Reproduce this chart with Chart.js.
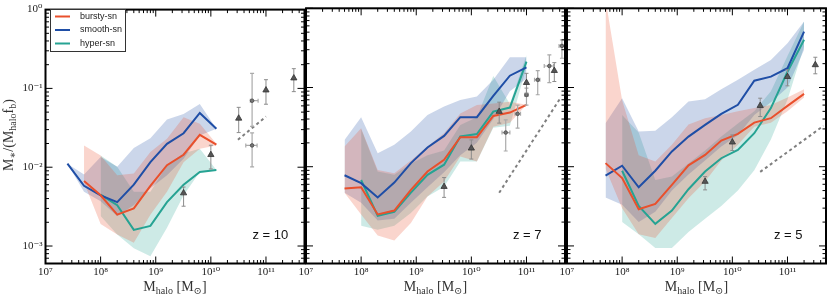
<!DOCTYPE html>
<html>
<head>
<meta charset="utf-8">
<script src="https://cdn.jsdelivr.net/npm/chart.js@4.4.1/dist/chart.umd.min.js"></script>
<style>
  body { margin: 0; background: #fff; }
  #wrap { position: relative; width: 830px; height: 299px; }
  #wrap canvas { position: absolute; left: 0; top: 0; }
</style>
</head>
<body>
<div id="wrap">
  <canvas id="panelZ10" width="830" height="299"></canvas>
  <canvas id="panelZ7" width="830" height="299"></canvas>
  <canvas id="panelZ5" width="830" height="299"></canvas>
</div>
<script>
// halo mass bins (M_sun), shared by all panels
const haloMass = [2.5e7, 5e7, 1e8, 2e8, 4e8, 8e8, 1.6e9, 3.2e9, 6.3e9, 1.26e10, 2.5e10, 5e10, 1e11, 2e11];
const xTicks = [1e7, 1e8, 1e9, 1e10, 1e11];
const yTicks = [1e-3, 1e-2, 1e-1, 1];
const seriesNames = ['bursty-sn', 'smooth-sn', 'hyper-sn'];

// z = 10
const z10Bursty   = [null, 0.0067, 0.0044, 0.0025, 0.0030, 0.0058, 0.0106, 0.0144, 0.0258, 0.0193, null, null, null, null];
const z10BurstyLo = [null, 0.0064, 0.0019, 0.0014, 0.0011, 0.0025, 0.0049, 0.0116, 0.0172, 0.0189, null, null, null, null];
const z10BurstyHi = [null, 0.0189, 0.0141, 0.0079, 0.0083, 0.0156, 0.0230, 0.0430, 0.0355, 0.0199, null, null, null, null];
const z10Smooth   = [0.0111, 0.0058, 0.0044, 0.0036, 0.0060, 0.0116, 0.0198, 0.0270, 0.0488, 0.0307, null, null, null, null];
const z10SmoothLo = [0.0111, 0.0049, 0.0037, 0.0024, 0.0033, 0.0054, 0.0079, 0.0128, 0.0252, 0.0307, null, null, null, null];
const z10SmoothHi = [0.0111, 0.0081, 0.0135, 0.0101, 0.0175, 0.0233, 0.0402, 0.0474, 0.0634, 0.0307, null, null, null, null];
const z10Hyper    = [null, null, 0.0045, 0.0033, 0.0016, 0.0018, 0.0036, 0.0060, 0.0087, 0.0092, null, null, null, null];
const z10HyperLo  = [null, null, 0.0024, 0.0014, 0.00094, 0.00074, 0.0017, 0.0044, 0.0087, 0.0092, null, null, null, null];
const z10HyperHi  = [null, null, 0.0141, 0.0101, 0.0049, 0.0049, 0.0106, 0.0150, 0.0172, 0.0092, null, null, null, null];

// z = 7
const z7Bursty   = [null, 0.0053, 0.0055, 0.0025, 0.0028, 0.0051, 0.0087, 0.0122, 0.0236, 0.0236, 0.0438, 0.0483, 0.0604, null];
const z7BurstyLo = [null, 0.0047, 0.0025, 0.00135, 0.00117, 0.00195, 0.0042, 0.0065, 0.0135, 0.0116, 0.032, 0.036, 0.0604, null];
const z7BurstyHi = [null, 0.018, 0.0307, 0.0091, 0.0083, 0.012, 0.018, 0.0265, 0.047, 0.060, 0.063, 0.066, 0.0604, null];
const z7Smooth   = [null, 0.0078, 0.0062, 0.0041, 0.0063, 0.0111, 0.0175, 0.0245, 0.0422, 0.0422, 0.0783, 0.141, 0.180, null];
const z7SmoothLo = [null, 0.0047, 0.0035, 0.0021, 0.0022, 0.0035, 0.0055, 0.0085, 0.014, 0.020, 0.040, 0.090, 0.130, null];
const z7SmoothHi = [null, 0.0218, 0.0422, 0.0148, 0.0189, 0.0278, 0.0451, 0.0574, 0.0698, 0.0768, 0.125, 0.241, 0.241, null];
const z7Hyper    = [null, null, 0.0068, 0.0024, 0.0027, 0.0047, 0.0079, 0.0106, 0.0241, 0.0258, 0.0497, 0.0558, 0.212, null];
const z7HyperLo  = [null, null, 0.0018, 0.0016, 0.0018, 0.0026, 0.0042, 0.0056, 0.0116, 0.0116, 0.031, 0.0328, 0.180, null];
const z7HyperHi  = [null, null, 0.030, 0.0087, 0.0079, 0.011, 0.014, 0.016, 0.0337, 0.042, 0.140, 0.062, 0.258, null];

// z = 5
const z5Bursty   = [null, 0.0111, 0.0072, 0.0029, 0.0034, 0.0059, 0.0104, 0.0141, 0.0214, 0.026, 0.036, 0.041, 0.0586, 0.083];
const z5BurstyLo = [null, 0.0095, 0.0030, 0.0014, 0.00126, 0.00225, 0.0040, 0.0065, 0.012, 0.019, 0.032, 0.036, 0.050, 0.075];
const z5BurstyHi = [null, 1.3, 0.069, 0.014, 0.0116, 0.019, 0.034, 0.041, 0.045, 0.050, 0.055, 0.060, 0.075, 0.095];
const z5Smooth   = [null, 0.0077, 0.0103, 0.0055, 0.0089, 0.0156, 0.024, 0.0337, 0.0465, 0.0604, 0.122, 0.137, 0.175, 0.507];
const z5SmoothLo = [null, 0.0041, 0.0033, 0.0020, 0.0027, 0.0050, 0.0080, 0.012, 0.018, 0.025, 0.045, 0.065, 0.100, 0.300];
const z5SmoothHi = [null, 0.0355, 0.073, 0.0278, 0.0284, 0.042, 0.0664, 0.071, 0.095, 0.125, 0.167, 0.223, 0.362, 0.68];
const z5Hyper    = [null, null, 0.0089, 0.0032, 0.0019, 0.0028, 0.0052, 0.0087, 0.0128, 0.0163, 0.0265, 0.055, 0.158, 0.40];
const z5HyperLo  = [null, null, 0.0020, 0.0014, 0.00094, 0.00094, 0.0015, 0.0022, 0.0032, 0.0050, 0.0090, 0.022, 0.070, 0.33];
const z5HyperHi  = [null, null, 0.045, 0.027, 0.0068, 0.0075, 0.011, 0.016, 0.024, 0.035, 0.050, 0.090, 0.250, 0.68];

// observations (triangles, circles) and dashed relation
const triMass = [3.2e9, 1e10, 3.2e10, 1e11, 3.2e11];
const z10TriVal = [0.0047, 0.0144, 0.0417, 0.095, 0.135];
const z10TriLo  = [0.0032, 0.0095, 0.0275, 0.063, 0.091];
const z10TriHi  = [0.0056, 0.019, 0.0575, 0.129, 0.178];
const z7TriVal  = [0.0056, 0.0171, 0.0497, 0.115, 0.163];
const z7TriLo   = [0.0041, 0.0125, 0.0355, 0.085, 0.119];
const z7TriHi   = [0.0073, 0.0218, 0.0653, 0.151, 0.206];
const z5TriVal  = [0.0065, 0.0204, 0.059, 0.137, 0.193];
const z5TriLo   = [0.0051, 0.016, 0.043, 0.105, 0.149];
const z5TriHi   = [0.0075, 0.0252, 0.0733, 0.167, 0.241];

const z10CircMass   = [5.6e10, 5.6e10];
const z10CircMassLo = [5.2e10, 4.3e10];
const z10CircMassHi = [7.2e10, 6.9e10];
const z10CircVal    = [0.0698, 0.0189];
const z10CircLo     = [0.033, 0.0101];
const z10CircHi     = [0.155, 0.0273];
const z7CircMass    = [4.2e10, 6.9e10, 1e11, 1.6e11, 2.6e11, 4.4e11];
const z7CircMassLo  = [3.6e10, 6.2e10, 9.3e10, 1.4e11, 2.1e11, 3.9e11];
const z7CircMassHi  = [5.0e10, 7.8e10, 1.07e11, 1.75e11, 3.1e11, 5.0e11];
const z7CircVal     = [0.027, 0.0465, 0.0807, 0.125, 0.187, 0.335];
const z7CircLo      = [0.0158, 0.0307, 0.060, 0.081, 0.115, 0.234];
const z7CircHi      = [0.039, 0.060, 0.098, 0.163, 0.258, 0.40];

const z10DashMass = [3.1e10, 1e11];
const z10DashVal  = [0.0223, 0.0439];
const z7DashMass  = [3.2e10, 4.1e11];
const z7DashVal   = [0.0047, 0.073];
const z5DashMass  = [3.2e10, 4.5e11];
const z5DashVal   = [0.0086, 0.0328];

const lineColors = ['#e9502c', '#1f4ea6', '#26a393'];
const bandColors = ['rgba(233,80,44,0.24)', 'rgba(31,78,166,0.23)', 'rgba(38,163,147,0.23)'];

const supDigits = { '-': '\u207b', '0': '\u2070', '1': '\u00b9', '2': '\u00b2', '3': '\u00b3', '4': '\u2074',
  '5': '\u2075', '6': '\u2076', '7': '\u2077', '8': '\u2078', '9': '\u2079' };
function powLabel(v) {
  const e = String(Math.round(Math.log10(v)));
  return '10' + e.split('').map(c => supDigits[c]).join('');
}

function toPoints(xs, ys) {
  return xs.map((x, i) => ({ x: x, y: ys[i] })).filter(p => p.y != null);
}

function seriesSets(k, vals, lo, hi) {
  return [
    { label: seriesNames[k], inLegend: true, data: toPoints(haloMass, vals), borderColor: lineColors[k],
      borderWidth: 2, pointRadius: 0, fill: false, order: 2 },
    { data: toPoints(haloMass, hi), borderColor: 'transparent', borderWidth: 0, pointRadius: 0,
      backgroundColor: bandColors[k], fill: '+1', order: 3 },
    { data: toPoints(haloMass, lo), borderColor: 'transparent', borderWidth: 0, pointRadius: 0, fill: false, order: 3 }
  ];
}

function obsSets(triVal, triLo, triHi, cMass, cMassLo, cMassHi, cVal, cLo, cHi, dMass, dVal) {
  const sets = [
    { data: toPoints(triMass, triVal), showLine: false, pointStyle: 'triangle', pointRadius: 3.6,
      pointBackgroundColor: '#555', pointBorderColor: '#333', pointBorderWidth: 0.8, order: 0,
      errY: triLo.map((l, i) => [l, triHi[i]]), errColor: '#8c8c8c', errWidth: 1 },
    { data: toPoints(dMass, dVal), borderColor: '#7f7f7f', borderWidth: 2, borderDash: [3, 3],
      pointRadius: 0, fill: false, order: 1 }
  ];
  if (cMass) {
    sets.push({ data: toPoints(cMass, cVal), showLine: false, pointStyle: 'circle', pointRadius: 1.8,
      pointBackgroundColor: '#777', pointBorderColor: '#444', pointBorderWidth: 0.8, order: 0,
      errY: cLo.map((l, i) => [l, cHi[i]]), errX: cMassLo.map((l, i) => [l, cMassHi[i]]),
      errColor: '#aaa', errWidth: 1.2 });
  }
  return sets;
}

function drawMixed(ctx, parts, x, y) {
  let w = 0;
  parts.forEach(p => { ctx.font = p.size + 'px "Liberation Serif", "DejaVu Serif", serif'; w += ctx.measureText(p.t).width; });
  let cx = x - w / 2;
  parts.forEach(p => {
    ctx.font = p.size + 'px "Liberation Serif", "DejaVu Serif", serif';
    ctx.fillText(p.t, cx, y + (p.dy || 0));
    cx += ctx.measureText(p.t).width;
  });
}

function drawLogTicks(ctx, scale, area, horizontal) {
  const lo = Math.floor(Math.log10(scale.min)), hi = Math.ceil(Math.log10(scale.max));
  for (let d = lo; d <= hi; d++) {
    for (let m = 1; m < 10; m++) {
      const v = m * Math.pow(10, d);
      if (v < scale.min * 0.999 || v > scale.max * 1.001) continue;
      const p = scale.getPixelForValue(v);
      const len = m === 1 ? 7 : 3.5;
      if (horizontal) {
        ctx.moveTo(p, area.bottom); ctx.lineTo(p, area.bottom - len);
        ctx.moveTo(p, area.top); ctx.lineTo(p, area.top + len);
      } else {
        ctx.moveTo(area.left, p); ctx.lineTo(area.left + len, p);
        ctx.moveTo(area.right, p); ctx.lineTo(area.right - len, p);
      }
    }
  }
}

const decoPlugin = {
  id: 'deco',
  beforeDatasetDraw(chart, args) {
    const ds = chart.data.datasets[args.index];
    if (!ds.errY) return;
    const xs = chart.scales.x, ys = chart.scales.y, a = chart.chartArea, ctx = chart.ctx;
    ctx.save();
    ctx.beginPath(); ctx.rect(a.left, a.top, a.right - a.left, a.bottom - a.top); ctx.clip();
    ctx.strokeStyle = ds.errColor; ctx.lineWidth = ds.errWidth;
    ctx.beginPath();
    ds.data.forEach((p, i) => {
      const px = xs.getPixelForValue(p.x), py = ys.getPixelForValue(p.y);
      const y1 = ys.getPixelForValue(ds.errY[i][0]), y2 = ys.getPixelForValue(ds.errY[i][1]);
      ctx.moveTo(px, y1); ctx.lineTo(px, y2);
      ctx.moveTo(px - 2, y1); ctx.lineTo(px + 2, y1);
      ctx.moveTo(px - 2, y2); ctx.lineTo(px + 2, y2);
      if (ds.errX) {
        const x1 = xs.getPixelForValue(ds.errX[i][0]), x2 = xs.getPixelForValue(ds.errX[i][1]);
        ctx.moveTo(x1, py); ctx.lineTo(x2, py);
        ctx.moveTo(x1, py - 2); ctx.lineTo(x1, py + 2);
        ctx.moveTo(x2, py - 2); ctx.lineTo(x2, py + 2);
      }
    });
    ctx.stroke();
    ctx.restore();
  },
  afterDraw(chart, args, opts) {
    const ctx = chart.ctx, a = chart.chartArea;
    ctx.save();
    // inward ticks on all four sides, then the frame
    ctx.strokeStyle = '#000'; ctx.lineWidth = 1;
    ctx.beginPath();
    drawLogTicks(ctx, chart.scales.x, a, true);
    drawLogTicks(ctx, chart.scales.y, a, false);
    ctx.stroke();
    ctx.lineWidth = 2;
    ctx.strokeRect(a.left, a.top, a.right - a.left, a.bottom - a.top);

    // redshift label
    ctx.fillStyle = '#111';
    ctx.font = '13px "Liberation Sans", Arial, sans-serif';
    ctx.textAlign = 'left'; ctx.textBaseline = 'alphabetic';
    ctx.fillText(opts.zLabel, a.right - 52, 239);

    // x axis title
    ctx.fillStyle = '#333';
    drawMixed(ctx, [{ t: 'M', size: 14 }, { t: 'halo', size: 10, dy: 3 }, { t: ' [M', size: 14 },
      { t: '\u2299', size: 10, dy: 3 }, { t: ']', size: 14 }], (a.left + a.right) / 2, 291);

    if (opts.first) {
      // y axis title
      ctx.save();
      ctx.translate(13, 135);
      ctx.rotate(-Math.PI / 2);
      drawMixed(ctx, [{ t: 'M', size: 14 }, { t: '\u2217', size: 10, dy: 3 }, { t: '/(M', size: 14 },
        { t: 'halo', size: 10, dy: 3 }, { t: 'f', size: 14 }, { t: 'b', size: 10, dy: 3 }, { t: ')', size: 14 }], 0, 0);
      ctx.restore();

      // legend
      ctx.fillStyle = '#fff';
      ctx.fillRect(50.5, 9.5, 75, 42);
      ctx.strokeStyle = '#333'; ctx.lineWidth = 1;
      ctx.strokeRect(50.5, 9.5, 75, 42);
      ctx.font = '9px "Liberation Sans", Arial, sans-serif';
      ctx.textBaseline = 'middle';
      const items = chart.data.datasets.filter(d => d.inLegend);
      items.forEach((d, i) => {
        const y = 16.5 + i * 13.5;
        ctx.strokeStyle = d.borderColor; ctx.lineWidth = 2;
        ctx.beginPath(); ctx.moveTo(55, y); ctx.lineTo(70, y); ctx.stroke();
        ctx.fillStyle = '#222';
        ctx.fillText(d.label, 80, y);
      });
    }
    ctx.restore();
  }
};

function makePanel(canvasId, padLeft, padRight, first, zLabel, datasets) {
  return new Chart(document.getElementById(canvasId), {
    type: 'line',
    data: { datasets: datasets },
    plugins: [decoPlugin],
    options: {
      responsive: false,
      animation: false,
      events: [],
      layout: { autoPadding: false, padding: { left: padLeft, right: padRight, top: 8.3, bottom: 0 } },
      plugins: { legend: { display: false }, tooltip: { enabled: false }, deco: { first: first, zLabel: zLabel } },
      elements: { line: { tension: 0 } },
      scales: {
        x: {
          type: 'logarithmic', min: 1e7, max: 5e11,
          grid: { display: false, drawTicks: false }, border: { display: false },
          afterBuildTicks: s => { s.ticks = xTicks.map(v => ({ value: v })); },
          afterFit: s => { s.height = 35.5; },
          ticks: { autoSkip: false, maxRotation: 0, padding: 2, color: '#222',
            font: { family: '"Liberation Serif", "DejaVu Serif", serif', size: 11 }, callback: v => powLabel(v) }
        },
        y: {
          type: 'logarithmic', min: 6e-4, max: 1, display: first,
          grid: { display: false, drawTicks: false }, border: { display: false },
          afterBuildTicks: s => { s.ticks = yTicks.map(v => ({ value: v })); },
          afterFit: s => { if (first) s.width = 45.5; },
          ticks: { autoSkip: false, padding: 3, color: '#222',
            font: { family: '"Liberation Serif", "DejaVu Serif", serif', size: 11 }, callback: v => powLabel(v) }
        }
      }
    }
  });
}

makePanel('panelZ10', 0, 525.5, true, 'z = 10', [].concat(
  obsSets(z10TriVal, z10TriLo, z10TriHi, z10CircMass, z10CircMassLo, z10CircMassHi, z10CircVal, z10CircLo, z10CircHi, z10DashMass, z10DashVal),
  seriesSets(0, z10Bursty, z10BurstyLo, z10BurstyHi),
  seriesSets(1, z10Smooth, z10SmoothLo, z10SmoothHi),
  seriesSets(2, z10Hyper, z10HyperLo, z10HyperHi)));

makePanel('panelZ7', 306, 265, false, 'z = 7', [].concat(
  obsSets(z7TriVal, z7TriLo, z7TriHi, z7CircMass, z7CircMassLo, z7CircMassHi, z7CircVal, z7CircLo, z7CircHi, z7DashMass, z7DashVal),
  seriesSets(0, z7Bursty, z7BurstyLo, z7BurstyHi),
  seriesSets(1, z7Smooth, z7SmoothLo, z7SmoothHi),
  seriesSets(2, z7Hyper, z7HyperLo, z7HyperHi)));

makePanel('panelZ5', 567, 4, false, 'z = 5', [].concat(
  obsSets(z5TriVal, z5TriLo, z5TriHi, null, null, null, null, null, null, z5DashMass, z5DashVal),
  seriesSets(0, z5Bursty, z5BurstyLo, z5BurstyHi),
  seriesSets(1, z5Smooth, z5SmoothLo, z5SmoothHi),
  seriesSets(2, z5Hyper, z5HyperLo, z5HyperHi)));
</script>
</body>
</html>
